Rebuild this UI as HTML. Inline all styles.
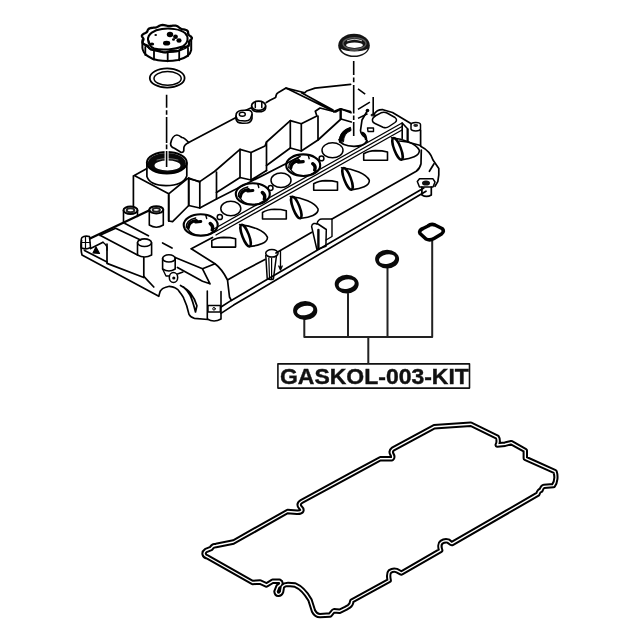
<!DOCTYPE html>
<html><head><meta charset="utf-8">
<style>
html,body{margin:0;padding:0;background:#fff;width:640px;height:640px;overflow:hidden}
svg{position:absolute;left:0;top:0;filter:blur(0.5px)}
.lbl{position:absolute;left:278px;top:364px;width:191px;height:24px;filter:blur(0.4px)}
.lbl span{position:absolute;left:1.5px;top:-0.5px;font-family:"Liberation Sans",sans-serif;font-weight:bold;font-size:22.3px;line-height:26px;color:#111;-webkit-text-stroke:0.4px #111;white-space:nowrap;transform-origin:0 0;transform:scaleX(1.03)}
</style></head><body>
<svg width="640" height="640" viewBox="0 0 640 640">
<g fill="none" stroke="#000" stroke-linejoin="round" stroke-linecap="round">

<!-- oil cap -->
<g id="cap" stroke-width="2">
<path d="M191.8 38.6 L191.3 39.3 L190.6 40.0 L189.8 40.6 L189.3 41.2 L189.0 41.9 L188.9 42.6 L189.0 43.3 L189.1 44.1 L189.0 44.8 L188.5 45.5 L187.7 46.1 L186.6 46.5 L185.3 46.9 L184.1 47.2 L183.0 47.5 L182.1 48.0 L181.4 48.6 L180.7 49.2 L180.0 49.9 L179.2 50.5 L178.1 50.9 L176.8 51.1 L175.4 51.1 L174.0 51.0 L172.7 51.0 L171.4 50.9 L170.2 51.1 L169.1 51.4 L167.9 51.7 L166.6 52.1 L165.3 52.3 L164.0 52.3 L162.7 52.1 L161.5 51.7 L160.4 51.2 L159.4 50.7 L158.3 50.4 L157.2 50.2 L155.9 50.1 L154.5 50.0 L153.1 49.9 L151.8 49.7 L150.7 49.3 L149.9 48.7 L149.3 48.1 L148.8 47.3 L148.4 46.6 L147.9 46.0 L147.1 45.5 L146.1 45.0 L145.0 44.6 L143.9 44.1 L143.1 43.5 L142.6 42.9 L142.5 42.1 L142.7 41.4 L143.1 40.6 L143.4 39.9 L143.5 39.3 L143.4 38.6 L142.9 37.9 L142.4 37.2 L142.0 36.5 L141.9 35.7 L142.2 35.0 L142.9 34.4 L143.8 33.8 L144.9 33.3 L145.8 32.8 L146.6 32.3 L147.1 31.7 L147.4 31.0 L147.7 30.2 L148.1 29.5 L148.7 28.9 L149.7 28.4 L150.9 28.0 L152.3 27.9 L153.7 27.7 L155.0 27.6 L156.1 27.4 L157.1 27.0 L158.1 26.5 L159.1 25.9 L160.1 25.5 L161.3 25.1 L162.7 25.0 L164.0 25.1 L165.3 25.4 L166.6 25.7 L167.8 25.9 L169.0 26.1 L170.3 26.0 L171.6 25.9 L172.9 25.7 L174.3 25.6 L175.7 25.7 L176.9 26.0 L177.9 26.5 L178.7 27.2 L179.5 27.8 L180.2 28.4 L181.2 28.8 L182.2 29.1 L183.5 29.4 L184.8 29.7 L186.1 30.0 L187.1 30.5 L187.7 31.1 L188.0 31.8 L188.1 32.6 L188.1 33.4 L188.3 34.1 L188.6 34.7 L189.2 35.3 L190.0 35.9 L190.9 36.5 L191.5 37.2 L191.9 37.9Z" stroke-width="2.3"/>
<path d="M148 40C147.5 34 154 30 162 29C170 28 180 29 185 33C189 37 188.5 43 182.5 46.5C175 49.5 162 50.5 154 48.5C150 46.5 148.3 43.5 148 40Z" stroke-width="2"/>
<path d="M142.4 40V48C143 54 150 59 158 60.3C164 61.2 172 61.2 178 60C186 58 190.5 54.5 191.2 50V40" stroke-width="2"/>
<path d="M145.3 47V55M154 51V59.5M167.7 53V61.3M179.2 52V60.3M188 48V56" stroke-width="1.8"/>
<path d="M145 45Q152 52 166 52.5Q181 52.5 189 46" stroke-width="1.6"/>
</g>
<g fill="#000" stroke="none">
<ellipse cx="170" cy="34.5" rx="3.2" ry="2.8"/><ellipse cx="175.5" cy="36.8" rx="2.4" ry="2.2"/><ellipse cx="179" cy="40.5" rx="2.6" ry="2.2"/><ellipse cx="173.5" cy="39.5" rx="1.5" ry="1.3"/>
<ellipse cx="166.6" cy="43.2" rx="3.6" ry="2.4"/><ellipse cx="155.7" cy="35" rx="1.3" ry="1.1"/><ellipse cx="152" cy="44" rx="2.2" ry="1.6"/>
<path d="M148.5 38Q147 44 152 47.5L150 42Z"/>
</g>
<ellipse cx="167.2" cy="78" rx="17.4" ry="9.6" stroke-width="1.8"/>
<ellipse cx="167.6" cy="78.4" rx="13.6" ry="6.8" stroke-width="1.5"/>
<!-- right seal -->
<ellipse cx="354" cy="45.4" rx="15.8" ry="11.7" fill="#141414" stroke="none"/><ellipse cx="354.5" cy="43.5" rx="11.5" ry="5.8" stroke="#5a5a5a" stroke-width="1.3"/>
<path d="M341 48.8C344 50.5 349 51.5 354.3 51.5C360 51.5 365 50.5 367.5 48.8C367 52.5 361 55.5 354.3 55.6C347.5 55.5 341.5 52.5 341 48.8Z" fill="#fff" stroke="none"/>
<ellipse cx="354.5" cy="45.2" rx="8.4" ry="2.7" fill="#fff" stroke="none"/>
<path d="M347.5 40.8Q354.5 37.6 361.5 40.8" stroke="#ccc" stroke-width="1.1"/>
<path d="M350 50.3H358" stroke="#555" stroke-width="1"/>
<!-- ===== valve cover ===== -->
<g id="cover" stroke-width="1.7">
<!-- filler neck -->
<path d="M147.85 163.4A19 10.5 0 1 0 185.85 163.4A19 10.5 0 1 0 147.85 163.4ZM154.5 165.5A13 5 0 1 1 180.5 165.5A13 5 0 1 1 154.5 165.5Z" fill="#0a0a0a" fill-rule="evenodd" stroke="none"/>
<ellipse cx="166.85" cy="162.65" rx="20" ry="10.75" stroke-width="2"/>
<path d="M157 160Q167 157 178 160" stroke="#888" stroke-width="0.8"/>
<path d="M146.9 163V176.5Q150 185.5 166 185.6Q183 185.5 186.8 176V163"/>
<!-- filler block -->
<path d="M146.5 168.7L134.3 175.6L168.7 193.8L187.5 178.5L200 181.5"/>
<path d="M133.4 175.8V207M168.7 193.8V221M188.7 180V205.5"/>
<!-- breather tube -->
<path d="M176.9 135C174 135 171.5 139 170.6 143.5C170.5 146 172 147.5 174.4 148.2L181.3 152.5C183.5 152.5 184 151 183.8 149C183.5 146 184.5 144.5 188.7 142.5C186 139.5 183 137.5 181.9 137.5C180 136 178.5 135 176.9 135Z"/>

<!-- back edge -->
<path d="M188.7 142.5L236.5 117.3M266.3 102.5L270 100.3L275.6 97.5C276 95 276.5 93.5 278 92.8L286 88.1L304.7 92.8L306.6 91L315 88.1L350.6 84.4"/>
<path d="M236 115.5C236 112.8 238 111 241 110.5L248 110C251 110.3 252.5 112 252 114.5L250.5 118.5C249.5 120.5 247.5 121 245 121L239.5 120.5C237.3 120 236 118 236 115.5Z" stroke-width="1.6"/>
<path d="M236 116V119C236.5 122 239.5 123.3 243 123.2L247.5 123C250 122.5 251.5 120.5 252 118.5V114.5" stroke-width="1.6"/>
<ellipse cx="242.3" cy="114.3" rx="3" ry="2" stroke-width="1.4"/>
<ellipse cx="258.6" cy="105.8" rx="7" ry="4.6" stroke-width="1.7"/>
<path d="M251.6 106V108Q252.5 111.8 258.6 111.8Q265 111.8 265.7 108V106M255.3 102.5V107.5M261.8 102.5V107.5M246 110.1L251.8 107.5" stroke-width="1.5"/>
<!-- ridge double -->
<path d="M286 88.1L333.8 111.6M301.5 92.8L333 110"/><path d="M333.8 111.6L340.3 108.8L350.6 111.6M340.3 108.8V118.5"/>

<!-- plate: block-bottom line continuation -->

<!-- plug holes -->
<defs>
<g id="ph">
<ellipse cx="0" cy="0" rx="17" ry="10.8" stroke-width="2.1"/>
<path d="M-14.5 2.5Q-14.5 -5 -5 -7" stroke-width="1.4"/>
<path d="M-12.5 3Q-12 -3.5 -4.5 -4.5M-5 -3L0 -3.5" stroke-width="3.2"/>
<path d="M9.5 -1.5Q13 1 11.5 5" stroke-width="3.4"/>
<path d="M-12.5 4Q-10 10 0 10.5Q10 10.5 13 6" stroke-width="1.4"/>
<path d="M5 -10L6 -6.5" stroke-width="1.4"/>
</g>
</defs>
<use href="#ph" x="200.7" y="225"/>
<use href="#ph" x="252.8" y="194"/>
<use href="#ph" x="303.2" y="165.2"/>
<path d="M339.3 142Q338.5 131 350.5 127.3L351 130.5Q343.5 133.5 343.5 141.5Z" fill="#000" stroke-width="1"/>
<path d="M339 139.5Q341 146 354 146.3Q364 146.3 367 141" stroke-width="1.8"/>
<path d="M367.5 110.5L362 120L360.5 130.5Q361 135 365.5 137.5L367 141" stroke-width="1.7"/>
<path d="M362.5 133Q365.5 134 366 139" stroke-width="2.6"/>
<path d="M367.5 128H373.5V131.5H368Z" stroke-width="1.4"/>
<circle cx="367.5" cy="110.5" r="1.8" fill="#000" stroke="none"/>
<ellipse cx="373.1" cy="115" rx="2.6" ry="1.5" fill="#222" stroke="none"/>
<!-- octagon holes -->
<g stroke-width="1.5">
<ellipse cx="230.8" cy="208.5" rx="10" ry="7.3"/>
<ellipse cx="281" cy="180.3" rx="10" ry="7.3"/>
<ellipse cx="332.5" cy="150.3" rx="10.5" ry="7.5"/>
<circle cx="219.8" cy="217" r="2.6"/><circle cx="270.6" cy="188" r="2.4"/><circle cx="321.5" cy="158.4" r="2.4"/>
</g>
<!-- triple long line -->
<path d="M212 230L402 123M214 232.5L402 126.5M216 235L402 130" stroke-width="1.3"/><path d="M402.2 123V138.5M407.3 128.5V142L420.6 145.5M402.2 123L407.3 128.5M399.5 141L407.3 142" stroke-width="1.6"/>
<!-- coil ovals, lens & boxes -->
<defs>
<g id="coil">
<path d="M-6 -11C6 -10 19 -5 21.8 1.5C22.5 7 13 10 5 10.8" stroke-width="1.6"/>
<ellipse cx="0" cy="0" rx="3.3" ry="11.5" transform="rotate(-21)" stroke-width="2.5"/>
<path d="M-33.8 5Q-29 2 -22 1.8Q-15 1.8 -10 3.2M-33.8 5V11.5L-10 11.5M-10 3.2V11.5" stroke-width="1.6"/>
</g>
</defs>
<use href="#coil" x="245.6" y="235.6"/>
<use href="#coil" x="296.3" y="207.5"/>
<use href="#coil" x="347.5" y="178.8"/>
<use href="#coil" x="397.5" y="148.8"/>
<!-- deck / flange long lines -->
<path d="M245 270L265 259.5M276 253L311.8 232.3M332 219L416.3 171.3Q420 168.5 421 163.8L421.3 150"/>
<path d="M221 307L231.3 300.4L423.8 188M221 313.4L233.6 305.1L426 191.2"/>
<path d="M227.5 280L229.5 297L231.3 300.4M191.3 248.8L215 263.8Q222 269 227.5 280L245 270"/>
<!-- left end of cover -->
<path d="M90 238.5L149 210.5" stroke-width="2.3"/>
<path d="M81.5 240.5C80.5 243 81 252 82 255L158.8 296.3C159.5 293.5 159.8 291.5 160.6 290.6C162 288.5 163.5 287.8 165 287.5L169.4 286.3C172 286.5 173.5 287 175 287.8C177.5 289 179 290.5 180 292.5C182 295 183.5 297 184 299L186.7 305.8L189 314.4C190.5 317 192 318 194.5 318.3L208 319.5"/>
<path d="M84.5 250.5L107 262M143.8 276.3L153.8 287"/>
<path d="M180.5 285.5C185 288 188.5 290.5 190.6 293.3C193.5 297 195.5 301 196.9 305.8L195.5 312C194 306 192.5 300 190 295C188 291.5 186 289 183.5 287"/>
<!-- left corner boss -->
<path d="M81.3 239C81.5 236.5 85 235.5 89.5 236.5L90.5 247.5C88 249 84 249 81.5 248Z" stroke-width="1.6"/><path d="M81.5 242.5H90M85.5 237V248" stroke-width="1.2"/>
<!-- bosses -->
<g stroke-width="1.6">
<path d="M123.5 210.6V223M137.5 210.6V216.5" /><ellipse cx="130.5" cy="210.3" rx="7" ry="3.8" stroke-width="2"/><ellipse cx="130.5" cy="210.3" rx="3.8" ry="2" stroke-width="2" stroke="#222"/>
<path d="M149.3 209.8V225Q156.3 229.5 163.3 225V209.8"/><ellipse cx="156.3" cy="209.8" rx="7" ry="3.6" stroke-width="2"/><ellipse cx="156.3" cy="209.8" rx="3.6" ry="1.9" stroke-width="2" stroke="#222"/>
<path d="M137.5 242.7V255Q144.5 259 151.6 255V242.7"/><ellipse cx="144.5" cy="242.7" rx="7" ry="3.8"/>
<path d="M162.6 258.4V269Q169 273 175.2 269V258.4"/><ellipse cx="168.9" cy="258.4" rx="6.3" ry="3.6"/>
<path d="M207.3 291V319Q214 323 221 319V291.5"/><path d="M208 305.5L220.3 305.5V312L208 312Z" stroke-width="1.4"/><circle cx="214" cy="308.8" r="1.3" stroke-width="1"/>
</g>
<!-- rib and flange top surface -->
<path d="M100 235.3L115.6 228.3L140.6 240M100 235.3L137.5 255M107 244V263.4L143.8 277.5V257.5"/>
<path d="M125 223.6L148.4 235.8M162.6 243L172 248M175.2 257.5L202.5 268.8L215 263.8M202.5 268.8L210 283.8M177.5 267.5L202.5 281.3L210 283.8"/>
<path d="M90.6 248.6L103 242.3"/>
<path d="M191.3 248.8L212.5 237.5"/>
<path d="M168.7 195V221L172.6 221.7L188.7 205.5"/>
<path d="M93 253L96 247L99.5 253.5Z" fill="#000" stroke-width="1.2"/>
<path d="M103 242.3Q108 246 107 250" stroke-width="1.4"/>
<ellipse cx="173.5" cy="277.5" rx="4.2" ry="5" stroke-width="1.5"/><circle cx="173.8" cy="278" r="1.6" fill="#000" stroke="none"/>
<path d="M162.6 269L166 276L169.5 276M177.5 274L183 272" stroke-width="1.4"/>
<!-- studs -->
<g stroke-width="1.5">
<path d="M265.8 255.5L267.2 278.3Q270 280.5 273.4 279L276.5 255.5"/><ellipse cx="271.9" cy="253.3" rx="6.2" ry="3.8"/>
<path d="M268.8 258L269.5 278M271.6 258V279" stroke-width="1.2"/>
<path d="M280.5 251V269.7M278.8 266L280.5 270L282.2 266" stroke-width="1.3"/>
<path d="M311.6 226.5C312 223 315 223 318 224L326.3 229.5L325.9 246.4L316.9 249.5Z"/>
<path d="M318.4 230V248.7" stroke-width="2.4"/>
<path d="M316.9 224Q318 219 322 219L332 219V236.5L326 240" stroke-width="1.4"/>
</g>
<!-- right end of cover -->
<path d="M372.5 121C372 119 373.5 117 376 115.5L381 112.8C383 112 385 112 387 113L395 117.5C397 119 397 121 395 122.5L389 126.5C387 128 385 128 383 127.2L375 123.5C373.5 122.8 372.7 122 372.5 121Z" stroke-width="1.5"/>
<path d="M373.8 114.4C376 111 380 109.5 383 109.7L392.5 112.5L411.3 123.8"/>
<path d="M411 124.5C411 122 420 121.5 420.5 124.5V129C420 131.5 411.5 131.5 411 129Z" stroke-width="1.5"/><ellipse cx="415.7" cy="125.5" rx="2.4" ry="1.4" fill="#222" stroke="none"/><path d="M408 129V141" stroke-width="1.5"/>
<path d="M420.6 130V146.3C426 149 430.5 152 433 160L438.8 168.4C439.2 174 438.6 178 437.8 181.6L435 186.3"/>
<path d="M429.4 171.3L434 163.8"/>
<path d="M417.3 181.5L419.5 178.8H433L435 182L433 187H419.5Z" stroke-width="1.5"/><ellipse cx="426" cy="183" rx="4" ry="2.6" fill="#111" stroke="none"/>
<path d="M421.9 187V195Q426.5 197.8 431.3 195V187"/>

<!-- upper deck block fronts -->
<path d="M188.7 178L199.4 181.9L214.5 171.5L240 149.4L251 152.5L265 146L266.5 142L290.3 120.6L301.3 123.8L316.9 116L315.3 111.3L320 108L335.6 112L341 109L351 112.8"/>
<path d="M188.7 178V205M199.8 182V208M216.5 172V199M240 149.4V177.5M251 152.5V180M266.5 142V170.5M290.3 120.6V148M301.3 123.8V151M318 116V140M341 109V119"/>
<path d="M188.7 205.5L199.8 208L216.5 199L300 156.5M216.5 192.5L240 177.5L251 180L266.5 170.5M266.5 165.5L290.3 148L301.3 151L318 140L341 119L351.3 122"/>
<!-- dashed center lines -->
<g stroke-width="1.6" stroke-linecap="butt">
<path d="M166.6 94.7V107.8M166.6 110.3V114.7M166.6 116.9V143M166.6 144.6V149.2M166.6 151V167" stroke="#fff" stroke-width="4"/>
<path d="M166.6 94.7V107.8M166.6 110.3V114.7M166.6 116.9V143M166.6 144.6V149.2M166.6 151V167"/>
<path d="M353.7 61V75M353.7 77.6V82.2M353.7 84.9V113.4M353.7 115.4V120M353.7 122V136"/>
<path d="M358 88.9L365.2 94.2M358 109.4L369.9 102.1M358 118.4L367.5 113.7M373.2 97V115"/>
</g>

<!-- gasket kit leaders -->
<rect x="277.9" y="363.9" width="191.6" height="24.2" stroke-width="1.6" stroke="#111"/>
<g stroke-width="2" stroke="#222">
<path d="M304.3 319.5V337H432.2V241M348 293.7V337M387.5 268.5V337M368.3 337V363"/>
</g>
<g stroke-width="3.6">
<path d="M293.10 310.50A12.1 9.6 0 1 0 317.30 310.50A12.1 9.6 0 1 0 293.10 310.50ZM297.08 312.23A8.3 4.6 -12 1 1 313.32 308.77A8.3 4.6 -12 1 1 297.08 312.23Z" fill="#0a0a0a" fill-rule="evenodd" stroke="none"/>
<path d="M334.70 284.10A12 9.3 0 1 0 358.70 284.10A12 9.3 0 1 0 334.70 284.10ZM338.68 285.80A8.2 4.6 -12 1 1 354.72 282.40A8.2 4.6 -12 1 1 338.68 285.80Z" fill="#0a0a0a" fill-rule="evenodd" stroke="none"/>
<path d="M375.10 259.10A12 9.35 0 1 0 399.10 259.10A12 9.35 0 1 0 375.10 259.10ZM379.08 260.80A8.2 4.6 -12 1 1 395.12 257.40A8.2 4.6 -12 1 1 379.08 260.80Z" fill="#0a0a0a" fill-rule="evenodd" stroke="none"/>
<path d="M420 233.5Q418.5 230.5 423 228.5L428 226Q431 223.5 435 225L442 228.5Q445 231 441.5 234L434 238.5Q430 241 426 239Z"/>
</g>
<!-- big gasket -->
<g id="gk">
<path id="gp" d="M350 475.2L301.5 501.5C298 503.5 299 506 300.5 507.5C303 510 302.5 512.5 297 512.3L287.5 511.5L233.5 542L216 545.5C212 545.5 212.5 547 211 548.5L206 550.5C203 552.5 203.5 556 207.5 557L252.5 582.5L260 582L266.5 585L272.5 581.3L279.5 581.3C282 582.5 281 585 278 586.5L276 591.5C276.5 595 280 595.5 281.5 592L282.5 586.5C284 585 286 584.4 288 584.4L295 585C301 587.5 306 593 310 600L313.5 611C315 614 317.5 615.6 320 615.6L330 615C332 613 333 611 334 610.8L339.5 611.3L345.6 608.3L348.8 606.5C351 605 351.8 603 351.8 601L389.2 580.5C388.5 577 388.5 573 390 571.5C392.5 569.8 395 570 396.5 570.5C399 571.5 400 572.8 401.5 573L440.7 550.3C439.5 547 439.8 543.5 441.5 542.3C444 540.5 446 540.5 448 541C450 542 450.5 543.5 452 543.6L537.8 494.2C538.5 492 539.5 490.5 541 490.3C542 487.5 543 486.5 544 486.4L553.4 485.6C556 482 556.5 476 555 471.6L525.3 458.3L525.3 450.5L511.25 442.65L505 444.2L497.2 445C498.5 443 498.5 439 497.2 437.2L470.7 424.2L434 426.8L392.8 449.2C391 450.5 391 452.5 391.8 454C393 456 393.2 458 392 458.7L380.3 458.75Z"/>
</g>
</g>
<use href="#gp" stroke="#000" stroke-width="5.4" fill="none" stroke-linejoin="round"/>
<use href="#gp" stroke="#fff" stroke-width="1.4" fill="none" stroke-linejoin="round"/>
</svg>
<div class="lbl"><span id="t">GASKOL-003-KIT</span></div>
</body></html>
